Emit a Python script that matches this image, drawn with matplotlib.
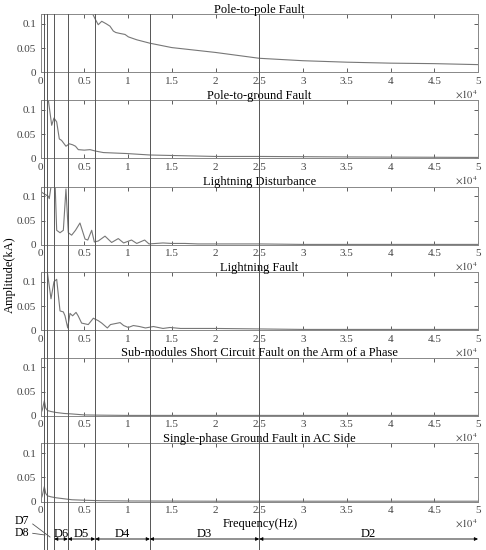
import matplotlib
matplotlib.use('Agg')
import matplotlib.pyplot as plt
from matplotlib.ticker import FuncFormatter, MultipleLocator

plt.rcParams['font.family'] = ['Liberation Serif', 'DejaVu Serif']
plt.rcParams['mathtext.fontset'] = 'stix'

titles = ['Pole-to-pole Fault', 'Pole-to-ground Fault', 'Lightning Disturbance',
          'Lightning Fault', 'Sub-modules Short Circuit Fault on the Arm of a Phase',
          'Single-phase Ground Fault in AC Side']

# spectra (Hz, kA)
f_pp = [0, 1000, 2000, 3000, 4000, 5000, 5960, 6300, 6600, 7000, 7500, 7940, 8320, 8600,
        9090, 9660, 10040, 11000, 12500, 15000, 17500, 20000, 22500, 25000, 30000,
        35000, 40000, 45000, 50000]
a_pp = [0.9, 0.6, 0.4, 0.3, 0.22, 0.16, 0.12, 0.108, 0.098, 0.105, 0.1, 0.095, 0.085, 0.082,
        0.080, 0.078, 0.073, 0.067, 0.060, 0.051, 0.046, 0.041, 0.035, 0.029, 0.024,
        0.021, 0.019, 0.018, 0.016]

f_pg = [0, 400, 895, 1280, 1540, 1850, 2150, 2410, 2910, 3290, 3670, 4000, 4320, 5000,
        5660, 6300, 7180, 8500, 9850, 12500, 15000, 20000, 25000, 35000, 50000]
a_pg = [0.6, 0.3, 0.12, 0.068, 0.083, 0.075, 0.040, 0.037, 0.025, 0.030, 0.028, 0.025, 0.018,
        0.017, 0.018, 0.015, 0.012, 0.011, 0.010, 0.007, 0.006, 0.004, 0.004, 0.003, 0.002]

f_ld = [0, 400, 890, 1000, 1280, 1660, 1850, 2230, 2610, 2910, 3180, 3560, 4000, 4510, 5090,
        5400, 5850, 6150, 6600, 7370, 8130, 8890, 9500, 10400, 11000, 11900, 12400,
        14000, 15000, 16500, 18000, 20000, 25000, 30000, 40000, 50000]
a_ld = [0.11, 0.105, 0.1, 0.095, 0.13, 0.13, 0.03, 0.025, 0.03, 0.115, 0.025, 0.02, 0.03, 0.045,
        0.012, 0.01, 0.03, 0.006, 0.008, 0.018, 0.005, 0.013, 0.004, 0.01, 0.003, 0.01,
        0.002, 0.004, 0.003, 0.003, 0.002, 0.002, 0.002, 0.001, 0.001, 0.001]

f_lf = [0, 400, 780, 1200, 1540, 1850, 2230, 2610, 2800, 3110, 3370, 3670, 4060, 4300,
        4700, 5460, 6040, 6600, 7000, 7640, 8000, 9100, 9500, 10040, 10610, 11300, 12000,
        12900, 14000, 14800, 16000, 20000, 25000, 30000, 40000, 50000]
a_lf = [0.5, 0.3, 0.12, 0.065, 0.1, 0.105, 0.04, 0.038, 0.03, 0.005, 0.035, 0.03, 0.037, 0.03,
        0.015, 0.012, 0.025, 0.02, 0.015, 0.005, 0.012, 0.016, 0.01, 0.006, 0.01, 0.008, 0.005,
        0.008, 0.004, 0.006, 0.004, 0.004, 0.003, 0.002, 0.002, 0.002]

f_sm = [0, 200, 437, 600, 800, 1200, 1800, 2700, 3600, 5000, 7000, 10000, 20000, 50000]
a_sm = [0.003, 0.012, 0.031, 0.016, 0.011, 0.009, 0.007, 0.005, 0.004, 0.002, 0.0015,
        0.001, 0.001, 0.001]

f_sg = [0, 200, 437, 600, 800, 1200, 1800, 2700, 3600, 5000, 7000, 10000, 20000, 50000]
a_sg = [0.003, 0.012, 0.031, 0.017, 0.012, 0.010, 0.008, 0.006, 0.004, 0.003, 0.002,
        0.0015, 0.001, 0.001]

freqs = [f_pp, f_pg, f_ld, f_lf, f_sm, f_sg]
amps = [a_pp, a_pg, a_ld, a_lf, a_sm, a_sg]

# wavelet band edges and labels
edges = [390.625, 781.25, 1562.5, 3125, 6250, 12500, 25000]
bands = ['D6', 'D5', 'D4', 'D3', 'D2']
band_lo = [1562.5, 3125, 6250, 12500, 25000]
band_hi = [3125, 6250, 12500, 25000, 50000]

W, H = 486, 550
fig = plt.figure(figsize=(W / 100, H / 100), dpi=100)
left, right = 40.5, 478
tops = [14, 100, 186.5, 272, 357.5, 443.3]
ph = 58.4
grey = '#777777'
edge = '#888888'

axes = []
for i in range(6):
    ax = fig.add_axes([left / W, 1 - (tops[i] + ph) / H, (right - left) / W, ph / H])
    ax.plot(freqs[i], amps[i], color=grey, lw=0.8)
    ax.set_xlim(0, 50000)
    ax.set_ylim(0, 0.12)
    ax.xaxis.set_major_locator(MultipleLocator(5000))
    ax.xaxis.set_major_formatter(FuncFormatter(lambda v, p: f'{v / 1e4:g}'))
    ax.set_yticks([0, 0.05, 0.1])
    ax.set_yticklabels(['0', '0.05', '0.1'])
    ax.tick_params(direction='in', top=True, right=True, length=3, width=0.6,
                   labelsize=8, colors='#444444', pad=3)
    for s in ax.spines.values():
        s.set_color(edge)
        s.set_linewidth(0.7)
    ax.set_title(titles[i], fontsize=9, pad=1, x=0.5)
    ax.text(1.0, -0.38, r'$\times10^4$', transform=ax.transAxes, ha='right', va='center',
            fontsize=7.5, color='#444444')
    axes.append(ax)

fig.text(10 / W, 0.5, 'Amplitude(kA)', rotation=90, ha='center', va='center', fontsize=9)

# overlay for band lines and arrows
ov = fig.add_axes([left / W, 0, (right - left) / W, 1 - tops[0] / H], facecolor='none')
ov.set_xlim(0, 50000)
ov.set_ylim(0, H - tops[0])
ov.axis('off')
for e in edges:
    ov.axvline(e, color='#555555', lw=0.7)

ya = H - 539
for lab, lo, hi in zip(bands, band_lo, band_hi):
    ov.annotate('', xy=(lo, ya), xytext=(hi, ya),
                arrowprops=dict(arrowstyle='<|-|>', color='black', lw=0.6,
                                mutation_scale=5, shrinkA=0, shrinkB=0))
    ov.text((lo + hi) / 2, ya - 1, lab, ha='center', va='bottom', fontsize=9)

fig.text(260 / W, 1 - 524 / H, 'Frequency(Hz)', ha='center', va='center', fontsize=9)
fig.text(22 / W, 1 - 521.5 / H, 'D7', ha='center', va='center', fontsize=8.5)
fig.text(22 / W, 1 - 533 / H, 'D8', ha='center', va='center', fontsize=8.5)
fig.add_artist(plt.Line2D([32.7 / W, 50 / W], [1 - 524 / H, 1 - 537 / H], color='#555555', lw=0.6))
fig.add_artist(plt.Line2D([32.7 / W, 45 / W], [1 - 533.3 / H, 1 - 535 / H], color='#555555', lw=0.6))

fig.savefig('out.png', dpi=100)
